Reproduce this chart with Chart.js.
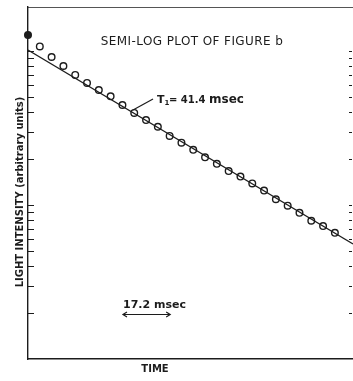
<!DOCTYPE html>
<html>
<head>
<meta charset="utf-8">
<script src="https://cdn.jsdelivr.net/npm/chart.js@4.4.1/dist/chart.umd.min.js"></script>
<style>
  html, body { margin: 0; padding: 0; background: #fff; }
  #wrap { width: 353px; height: 381px; }
</style>
</head>
<body>
<div id="wrap"><canvas id="c"></canvas></div>
<script>
// sample times (msec), one every 4.3 msec
var sampleTimes = [0, 4.3, 8.6, 12.9, 17.2, 21.5, 25.8, 30.1, 34.4, 38.7, 43.0, 47.3, 51.6, 55.9,
                   60.2, 64.5, 68.8, 73.1, 77.4, 81.7, 86.0, 90.3, 94.6, 98.9, 103.2, 107.5, 111.8];
// light intensity (arbitrary units)
var sampleIntensity = [127, 107, 91.4, 79.9, 69.9, 62.0, 55.8, 50.8, 44.6, 39.6, 35.6, 32.2, 28.1, 25.4,
                       22.8, 20.4, 18.5, 16.6, 15.3, 13.8, 12.4, 10.9, 9.9, 8.9, 7.9, 7.3, 6.6];
// fitted straight line, T1 = 41.4 msec
var fitTimes = [0, 118.4];
var fitIntensity = [101.3, 5.58];
// tick marks on the log axis
var intensityTicks = [2, 3, 4, 5, 6, 7, 8, 9, 10, 20, 30, 40, 50, 60, 70, 80, 90, 100];
var timeMax = 118.4;
var intensityMin = 1, intensityMax = 193;
// 17.2 msec scale bar
var scaleBarStart = 34.6, scaleBarLength = 17.2;

var ink = '#1c1c1c';

var points = sampleTimes.map(function (t, i) { return { x: t, y: sampleIntensity[i] }; });
var fit = fitTimes.map(function (t, i) { return { x: t, y: fitIntensity[i] }; });

function noPad(s) {
    s.paddingLeft = 0; s.paddingRight = 0; s.paddingTop = 0; s.paddingBottom = 0;
}

var annotations = {
    id: 'annotations',
    afterDraw: function (chart) {
        var ctx = chart.ctx, area = chart.chartArea;
        var xs = chart.scales.x, ys = chart.scales.y;
        ctx.save();
        ctx.strokeStyle = ink;
        ctx.fillStyle = ink;
        ctx.lineWidth = 1.2;

        // inward tick marks, left and right
        intensityTicks.forEach(function (v) {
            var y = Math.round(ys.getPixelForValue(v)) + 0.5;
            ctx.beginPath();
            ctx.moveTo(area.left, y); ctx.lineTo(area.left + 6, y);
            ctx.moveTo(area.right - 4, y); ctx.lineTo(area.right - 1, y);
            ctx.stroke();
        });

        // title inside the plot
        ctx.textBaseline = 'middle';
        ctx.textAlign = 'center';
        ctx.font = '12px "DejaVu Sans"';
        ctx.letterSpacing = '0.4px';
        ctx.fillText('SEMI-LOG PLOT OF FIGURE b', 192, 42);
        ctx.letterSpacing = '0px';

        // T1 label with leader line
        ctx.beginPath();
        ctx.moveTo(133, 110); ctx.lineTo(153, 99);
        ctx.stroke();
        ctx.textAlign = 'left';
        ctx.font = 'bold 11px "DejaVu Sans"';
        ctx.fillText('T', 157, 100);
        var tw = ctx.measureText('T').width;
        ctx.font = 'bold 7px "DejaVu Sans"';
        ctx.fillText('1', 157 + tw, 103);
        ctx.font = 'bold 10px "DejaVu Sans"';
        ctx.fillText('= 41.4', 169, 100);
        ctx.font = 'bold 12px "DejaVu Sans"';
        ctx.fillText('msec', 209, 100);

        // scale bar
        var x0 = xs.getPixelForValue(scaleBarStart);
        var x1 = xs.getPixelForValue(scaleBarStart + scaleBarLength);
        ctx.font = 'bold 11px "DejaVu Sans"';
        ctx.fillText('17.2 msec', x0, 305);
        ctx.beginPath();
        ctx.moveTo(x0, 314.5); ctx.lineTo(x1, 314.5);
        ctx.moveTo(x0 + 4, 312); ctx.lineTo(x0, 314.5); ctx.lineTo(x0 + 4, 317);
        ctx.moveTo(x1 - 4, 312); ctx.lineTo(x1, 314.5); ctx.lineTo(x1 - 4, 317);
        ctx.stroke();

        // axis titles
        ctx.textAlign = 'center';
        ctx.font = 'bold 10px "DejaVu Sans"';
        ctx.fillText('TIME', 155, 369);
        ctx.translate(20, 192);
        ctx.rotate(-Math.PI / 2);
        ctx.fillText('LIGHT INTENSITY (arbitrary units)', 0, 0);
        ctx.restore();
    }
};

new Chart(document.getElementById('c'), {
    type: 'scatter',
    data: {
        datasets: [{
            type: 'line',
            data: fit,
            borderColor: ink,
            borderWidth: 1.2,
            pointRadius: 0,
            tension: 0
        }, {
            data: points,
            clip: false,
            borderColor: ink,
            borderWidth: 1.4,
            pointRadius: 3.3,
            backgroundColor: sampleTimes.map(function (t, i) { return i === 0 ? ink : 'rgba(255,255,255,0)'; })
        }]
    },
    options: {
        responsive: true,
        maintainAspectRatio: false,
        animation: false,
        layout: { padding: 0, autoPadding: false },
        plugins: {
            legend: { display: false },
            tooltip: { enabled: false }
        },
        scales: {
            x: {
                type: 'linear',
                position: 'bottom',
                min: 0,
                max: timeMax,
                ticks: { display: false },
                grid: { display: false },
                border: { display: true, color: ink, width: 1.4 },
                afterFit: function (s) { s.height = 22; noPad(s); }
            },
            x2: {
                type: 'linear',
                position: 'top',
                ticks: { display: false },
                grid: { display: false },
                border: { display: true, color: '#555', width: 1 },
                afterFit: function (s) { s.height = 7; noPad(s); }
            },
            y: {
                type: 'logarithmic',
                min: intensityMin,
                max: intensityMax,
                ticks: { display: false },
                grid: { display: false },
                border: { display: true, color: ink, width: 1.4 },
                afterFit: function (s) { s.width = 28; noPad(s); }
            }
        }
    },
    plugins: [annotations]
});
</script>
</body>
</html>
